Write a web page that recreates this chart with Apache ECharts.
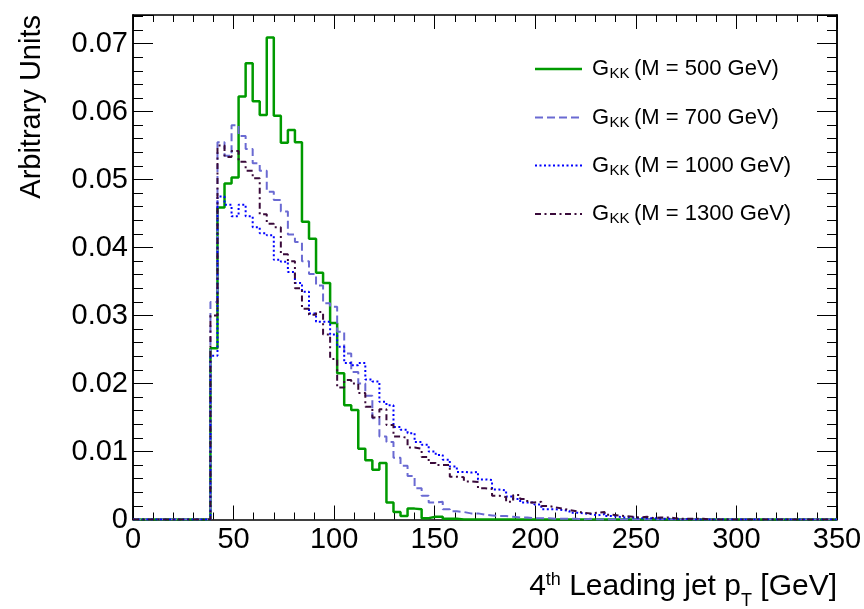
<!DOCTYPE html>
<html><head><meta charset="utf-8">
<script src="https://cdn.jsdelivr.net/npm/echarts@6/dist/echarts.min.js"></script>
<style>html,body{margin:0;padding:0;background:#fff}#c{width:864px;height:609px}</style>
</head><body><div id="c"></div>
<script>
// Histogram: 100 bins from 0 to 350 GeV
const binWidth = 3.5;
const xTicks = [0, 50, 100, 150, 200, 250, 300, 350];
const yTicks = [0, 0.01, 0.02, 0.03, 0.04, 0.05, 0.06, 0.07];
const seriesNames = ['500', '700', '1000', '1300'];

const m500 = [
0,0,0,0,0,0,0,0,0,0,
0,0.0252,0.0459,0.0494,0.0503,0.0622,0.0671,0.0615,0.0595,0.0709,
0.0594,0.0554,0.0573,0.0555,0.0438,0.0413,0.0363,0.0348,0.0289,0.0215,
0.0168,0.0161,0.0104,0.0087,0.0073,0.0083,0.0025,0.0011,0.0005,0.0016,
0.0015,0.0002,0.0004,0.0004,0.0001,0.0001,0,0,0,0,
0,0,0,0,0,0,0,0,0,0,
0,0,0,0,0,0,0,0,0,0,
0,0,0,0,0,0,0,0,0,0,
0,0,0,0,0,0,0,0,0,0,
0,0,0,0,0,0,0,0,0,0
];
const m700 = [
0,0,0,0,0,0,0,0,0,0,
0,0.0320,0.0555,0.0535,0.0580,0.0564,0.0545,0.0524,0.0513,0.0482,
0.0470,0.0453,0.0419,0.0408,0.0380,0.0361,0.0344,0.0318,0.0313,0.0276,
0.0244,0.0217,0.0200,0.0182,0.0149,0.0122,0.0114,0.0091,0.0079,0.0064,
0.0046,0.0035,0.0025,0.0026,0.0015,0.0012,0.0011,0.0009,0.0009,0.0007,
0.0006,0.0005,0.0005,0.0004,0.0003,0.0003,0.0002,0.0002,0.0002,0.0001,
0.0001,0.0001,0.0001,0,0.0001,0,0,0,0,0,
0,0,0,0,0,0,0,0,0,0,
0,0,0,0,0,0,0,0,0,0,
0,0,0,0,0,0,0,0,0,0
];
const m1000 = [
0,0,0,0,0,0,0,0,0,0,
0,0.0241,0.0475,0.0463,0.0446,0.0463,0.0446,0.0430,0.0421,0.0418,
0.0382,0.0379,0.0364,0.0348,0.0335,0.0303,0.0291,0.0291,0.0272,0.0254,
0.0230,0.0227,0.0230,0.0206,0.0203,0.0173,0.0168,0.0136,0.0132,0.0127,
0.0114,0.0110,0.0100,0.0095,0.0088,0.0078,0.0070,0.0069,0.0070,0.0059,
0.0058,0.0044,0.0043,0.0034,0.0030,0.0025,0.0025,0.0022,0.0015,0.0015,
0.0014,0.0013,0.0010,0.0009,0.0008,0.0006,0.0008,0.0005,0.0004,0.0003,
0.0003,0.0002,0.0002,0.0002,0.0001,0.0001,0.0001,0,0.0001,0,
0,0,0,0,0,0,0,0,0,0,
0,0,0,0,0,0,0,0,0,0
];
const m1300 = [
0,0,0,0,0,0,0,0,0,0,
0,0.0300,0.0550,0.0533,0.0542,0.0526,0.0513,0.0502,0.0449,0.0435,
0.0430,0.0390,0.0380,0.0340,0.0310,0.0301,0.0305,0.0272,0.0236,0.0194,
0.0205,0.0200,0.0186,0.0166,0.0150,0.0162,0.0139,0.0122,0.0120,0.0106,
0.0104,0.0092,0.0083,0.0080,0.0080,0.0063,0.0062,0.0056,0.0055,0.0046,
0.0045,0.0035,0.0033,0.0026,0.0036,0.0030,0.0025,0.0026,0.0020,0.0018,
0.0016,0.0014,0.0012,0.0010,0.0009,0.0010,0.0011,0.0007,0.0006,0.0005,
0.0004,0.0003,0.0004,0.0002,0.0003,0.0003,0.0002,0.0001,0.0001,0.0001,
0.0001,0,0,0,0,0,0,0,0,0,
0,0,0,0,0,0,0,0,0,0
];

const FONT = '"Liberation Sans", Arial, Helvetica, sans-serif';
const colors = ['#009a00', '#6a6ad2', '#0000ff', '#3a0a3a'];
const dashes = [null, [8, 4], [2, 2.5], [6, 3.5, 2, 3.5]];
const widths = [2.5, 2, 2, 2];
const allVals = [m500, m700, m1000, m1300];

function toSteps(vals) {
  const pts = vals.map((v, i) => [i * binWidth, v]);
  pts.push([vals.length * binWidth, vals[vals.length - 1]]);
  return pts;
}

const xMin = xTicks[0], xMax = xTicks[xTicks.length - 1];
const yMax = 0.0742;

const chart = echarts.init(document.getElementById('c'), null, {renderer: 'canvas'});

function xAxisDef(pos, showLabel) {
  return {
    type: 'value', min: xMin, max: xMax, interval: 50, position: pos,
    axisLine: {show: true, onZero: false, lineStyle: {color: '#000', width: 1.5}},
    axisTick: {show: true, inside: true, length: 14, lineStyle: {color: '#000', width: 1}},
    minorTick: {show: true, splitNumber: 5, length: 7, lineStyle: {color: '#000', width: 1}},
    axisLabel: {show: showLabel, fontSize: 29, color: '#000', fontFamily: FONT, margin: 6},
    splitLine: {show: false}, minorSplitLine: {show: false}
  };
}
function yAxisDef(pos, interval, len, showLabel) {
  return {
    type: 'value', min: 0, max: yMax, interval: interval, position: pos,
    axisLine: {show: true, onZero: false, lineStyle: {color: '#000', width: 1.5}},
    axisTick: {show: true, inside: true, length: len, lineStyle: {color: '#000', width: 1}},
    minorTick: {show: false},
    axisLabel: {
      show: showLabel, fontSize: 29, color: '#000', fontFamily: FONT, margin: 5,
      formatter: function (v) {
        const r = Math.round(v * 100);
        if (Math.abs(v * 100 - r) > 1e-6) return '';
        return r === 0 ? '0' : (r / 100).toFixed(2);
      }
    },
    splitLine: {show: false}
  };
}

// legend graphics
const legendY = [69, 117.5, 165.5, 214];
const graphics = [];
seriesNames.forEach((m, i) => {
  const y = legendY[i];
  graphics.push({type: 'line', shape: {x1: 535, y1: y, x2: 582, y2: y},
    style: {stroke: colors[i], lineWidth: widths[i], lineDash: dashes[i] || null}, z: 100});
  graphics.push({type: 'text', x: 592, y: y, style: {text: 'G', font: '22px ' + FONT, fill: '#000', verticalAlign: 'middle', align: 'left'}, z: 100});
  graphics.push({type: 'text', x: 609.5, y: y + 5, style: {text: 'KK', font: '15px ' + FONT, fill: '#000', verticalAlign: 'middle', align: 'left'}, z: 100});
  graphics.push({type: 'text', x: 634, y: y, style: {text: '(M = ' + m + ' GeV)', font: '22px ' + FONT, fill: '#000', verticalAlign: 'middle', align: 'left'}, z: 100});
});

// y title
graphics.push({type: 'text', x: 32, y: 15, rotation: Math.PI / 2,
  style: {text: 'Arbitrary Units', font: '29px ' + FONT, fill: '#000', align: 'right', verticalAlign: 'middle'}});

// x title: pieces measured right to left from x = 837
const ctx = document.createElement('canvas').getContext('2d');
function tw(t, s) { ctx.font = s + 'px ' + FONT; return ctx.measureText(t).width; }
const parts = [
  {t: '4', s: 30, y: 586.5},
  {t: 'th', s: 18, y: 580},
  {t: ' Leading jet p', s: 30, y: 586.5},
  {t: 'T', s: 18, y: 601},
  {t: ' [GeV]', s: 30, y: 586.5}
];
let xr = 837;
for (let i = parts.length - 1; i >= 0; i--) {
  const w = tw(parts[i].t, parts[i].s);
  xr -= w;
  graphics.push({type: 'text', x: xr, y: parts[i].y,
    style: {text: parts[i].t, font: parts[i].s + 'px ' + FONT, fill: '#000', align: 'left', verticalAlign: 'middle'}});
}

const option = {
  animation: false,
  backgroundColor: '#fff',
  grid: {left: 133, right: 27, top: 15, bottom: 89.5, containLabel: false, outerBoundsMode: 'none'},
  xAxis: [xAxisDef('bottom', true), xAxisDef('top', false)],
  yAxis: [yAxisDef('left', 0.01, 20, true), yAxisDef('left', 0.002, 10, false),
          yAxisDef('right', 0.01, 20, false), yAxisDef('right', 0.002, 10, false)],
  series: allVals.map((vals, i) => ({
    name: seriesNames[i], type: 'line', step: 'end', xAxisIndex: 0, yAxisIndex: 0,
    data: toSteps(vals), symbol: 'none', showSymbol: false, clip: true,
    lineStyle: {color: colors[i], width: widths[i], type: dashes[i] || 'solid'},
    z: 2 + i
  })),
  graphic: graphics
};
chart.setOption(option);
</script></body></html>
